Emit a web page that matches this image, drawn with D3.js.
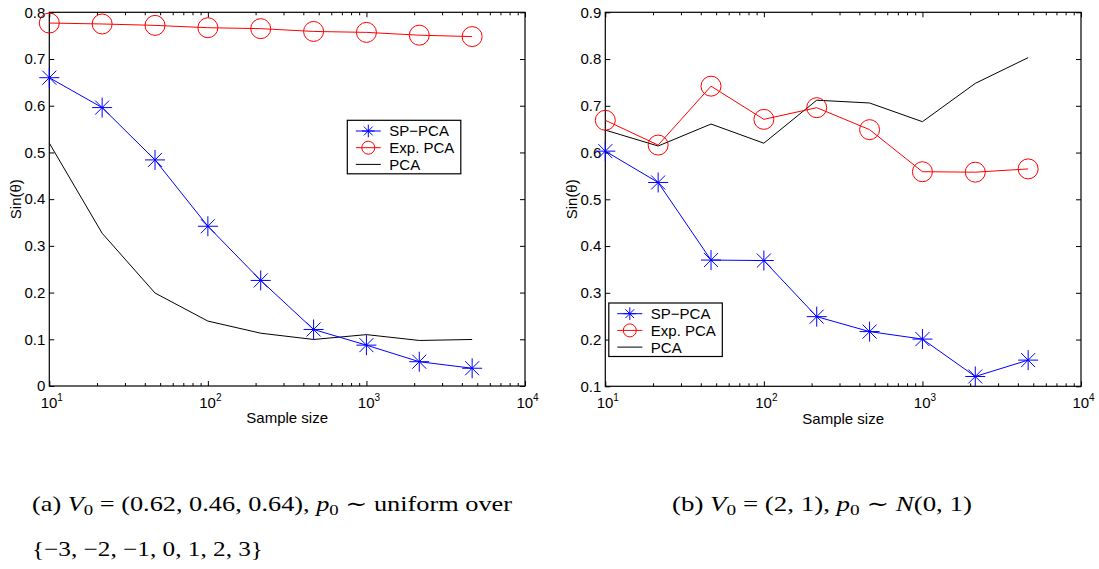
<!DOCTYPE html>
<html>
<head>
<meta charset="utf-8">
<script src="https://cdn.jsdelivr.net/npm/d3@7"></script>
<style>
  html, body { margin: 0; padding: 0; background: #fff; }
  svg { display: block; }
  .tick text { font-family: "Liberation Sans", Arial, Helvetica, sans-serif; }
</style>
</head>
<body>
<svg id="fig" width="1099" height="569"></svg>
<script>
// Sample sizes (log-spaced) shared by both panels
const sampleSizes = [10, 21.54, 46.42, 100, 215.4, 464.2, 1000, 2154, 4642];

// Panel (a): V0 = (0.62, 0.46, 0.64), uniform p0
const spPcaA  = [0.660, 0.596, 0.484, 0.342, 0.226, 0.121, 0.0875, 0.052, 0.038];
const expPcaA = [0.777, 0.775, 0.772, 0.767, 0.765, 0.759, 0.757, 0.751, 0.748];
const pcaA    = [0.520, 0.327, 0.199, 0.139, 0.113, 0.0996, 0.110, 0.0975, 0.0996];

// Panel (b): V0 = (2, 1), Gaussian p0
const spPcaB  = [0.603, 0.536, 0.370, 0.369, 0.249, 0.217, 0.201, 0.121, 0.156];
const expPcaB = [0.669, 0.616, 0.742, 0.671, 0.696, 0.649, 0.559, 0.558, 0.565];
const pcaB    = [0.648, 0.614, 0.661, 0.620, 0.712, 0.706, 0.666, 0.748, 0.803];

// Axis ticks and labels
const xMajorTicks = [10, 100, 1000, 10000];
const xTickExponents = ["1", "2", "3", "4"];
const xMinorTicks = [20, 30, 40, 50, 60, 70, 80, 90,
                     200, 300, 400, 500, 600, 700, 800, 900,
                     2000, 3000, 4000, 5000, 6000, 7000, 8000, 9000];
const yTicksA = [0, 0.1, 0.2, 0.3, 0.4, 0.5, 0.6, 0.7, 0.8];
const yTickLabelsA = ["0", "0.1", "0.2", "0.3", "0.4", "0.5", "0.6", "0.7", "0.8"];
const yTicksB = [0.1, 0.2, 0.3, 0.4, 0.5, 0.6, 0.7, 0.8, 0.9];
const yTickLabelsB = ["0.1", "0.2", "0.3", "0.4", "0.5", "0.6", "0.7", "0.8", "0.9"];

const seriesNames = ["SP\u2212PCA", "Exp. PCA", "PCA"];
const xLabel = "Sample size";
const yLabel = "Sin(\u03b8)";

const svg = d3.select("#fig");
const SANS = '"Liberation Sans", Arial, Helvetica, sans-serif';
const SERIF = '"Liberation Serif", "DejaVu Serif", serif';
const FS = "15px";

// Asterisk marker: a plus with shorter diagonals
function starPath(h) {
  const d = h * 0.7;
  return `M${-h},0H${h}M0,${-h}V${h}M${-d},${-d}L${d},${d}M${-d},${d}L${d},${-d}`;
}

function drawPanel(opt) {
  const { left, top, width, height, yDomain, yTicks, yTickLabels, sp, exp, pca, legend } = opt;
  const g = svg.append("g").attr("transform", `translate(${left},${top})`);

  const x = d3.scaleLog().domain([10, 10000]).range([0, width]);
  const y = d3.scaleLinear().domain(yDomain).range([height, 0]);

  // bottom axis: major + minor ticks pointing inward
  const bottom = g.append("g").attr("transform", `translate(0,${height})`)
    .call(d3.axisBottom(x).tickValues(xMajorTicks).tickSizeInner(-5).tickSizeOuter(0)
      .tickFormat(() => ""));
  bottom.selectAll(".tick text").remove();
  g.append("g").attr("transform", `translate(0,${height})`)
    .call(d3.axisBottom(x).tickValues(xMinorTicks).tickSizeInner(-3).tickSizeOuter(0).tickFormat(() => ""));
  g.append("g")
    .call(d3.axisTop(x).tickValues(xMajorTicks).tickSizeInner(-5).tickSizeOuter(0).tickFormat(() => ""));
  g.append("g")
    .call(d3.axisTop(x).tickValues(xMinorTicks).tickSizeInner(-3).tickSizeOuter(0).tickFormat(() => ""));

  // x tick labels as 10 with superscript exponents
  bottom.selectAll(".tick").each(function(d, i) {
    const t = d3.select(this).append("text")
      .attr("fill", "#000").attr("x", 2).attr("y", 21.5)
      .attr("text-anchor", "middle")
      .style("font-size", FS).style("font-family", SANS);
    t.append("tspan").text("10");
    t.append("tspan").attr("dy", -6.5).style("font-size", "10px").text(xTickExponents[i]);
  });

  // y axes
  g.append("g")
    .call(d3.axisLeft(y).tickValues(yTicks).tickSizeInner(-5).tickSizeOuter(0).tickPadding(4)
      .tickFormat((d, i) => yTickLabels[i]))
    .selectAll(".tick text").style("font-size", FS).style("font-family", SANS).attr("fill", "#000");
  g.append("g").attr("transform", `translate(${width},0)`)
    .call(d3.axisRight(y).tickValues(yTicks).tickSizeInner(-5).tickSizeOuter(0).tickFormat(() => ""));

  g.selectAll(".domain").remove();
  g.selectAll(".tick line").attr("stroke", "#000").attr("stroke-width", 1);

  // frame
  g.append("rect").attr("x", 0).attr("y", 0).attr("width", width).attr("height", height)
    .attr("fill", "none").attr("stroke", "#000").attr("stroke-width", 1.2);

  // axis titles
  g.append("text").attr("x", width / 2).attr("y", height + 37.5)
    .attr("text-anchor", "middle").style("font-family", SANS).style("font-size", FS)
    .text(xLabel);
  g.append("text")
    .attr("transform", `translate(-34,${height / 2}) rotate(-90)`)
    .attr("text-anchor", "middle").attr("dy", "0.35em")
    .style("font-family", SANS).style("font-size", FS)
    .text(yLabel);

  const line = d3.line().x(d => x(d[0])).y(d => y(d[1]));
  const zip = vals => sampleSizes.map((s, i) => [s, vals[i]]);

  // PCA (plain line)
  g.append("path").datum(zip(pca)).attr("d", line)
    .attr("fill", "none").attr("stroke", "#000").attr("stroke-width", 1);

  // Exp. PCA (circles)
  g.append("path").datum(zip(exp)).attr("d", line)
    .attr("fill", "none").attr("stroke", "#ff0000").attr("stroke-width", 1);
  g.selectAll(".circ").data(zip(exp)).join("circle").attr("class", "circ")
    .attr("cx", d => x(d[0])).attr("cy", d => y(d[1])).attr("r", 10)
    .attr("fill", "none").attr("stroke", "#ff0000").attr("stroke-width", 1);

  // SP-PCA (asterisks)
  g.append("path").datum(zip(sp)).attr("d", line)
    .attr("fill", "none").attr("stroke", "#0000ff").attr("stroke-width", 1);
  g.selectAll(".star").data(zip(sp)).join("path").attr("class", "star")
    .attr("transform", d => `translate(${x(d[0])},${y(d[1])})`)
    .attr("d", starPath(10))
    .attr("fill", "none").attr("stroke", "#0000ff").attr("stroke-width", 1);

  // legend
  const lg = g.append("g").attr("transform", `translate(${legend.x},${legend.y})`);
  lg.append("rect").attr("width", 113.5).attr("height", 53.5)
    .attr("fill", "#fff").attr("stroke", "#000").attr("stroke-width", 1.2);
  const rows = [
    { name: seriesNames[0], color: "#0000ff", marker: "star" },
    { name: seriesNames[1], color: "#ff0000", marker: "circle" },
    { name: seriesNames[2], color: "#000", marker: null }
  ];
  rows.forEach((r, i) => {
    const cy = 10.7 + i * 16.7;
    lg.append("line").attr("x1", 8.5).attr("x2", 33.5).attr("y1", cy).attr("y2", cy)
      .attr("stroke", r.color).attr("stroke-width", 1);
    if (r.marker === "star") {
      lg.append("path").attr("transform", `translate(21,${cy})`).attr("d", starPath(6.3))
        .attr("fill", "none").attr("stroke", r.color).attr("stroke-width", 1);
    } else if (r.marker === "circle") {
      lg.append("circle").attr("cx", 21).attr("cy", cy).attr("r", 6.5)
        .attr("fill", "none").attr("stroke", r.color).attr("stroke-width", 1);
    }
    lg.append("text").attr("x", 42).attr("y", cy).attr("dy", "0.36em")
      .style("font-family", SANS).style("font-size", FS).text(r.name);
  });
}

drawPanel({
  left: 49.3, top: 12.3, width: 475.7, height: 373.7,
  yDomain: [0, 0.8], yTicks: yTicksA, yTickLabels: yTickLabelsA,
  sp: spPcaA, exp: expPcaA, pca: pcaA,
  legend: { x: 298, y: 108 }
});

drawPanel({
  left: 605.3, top: 12.3, width: 475.7, height: 374,
  yDomain: [0.1, 0.9], yTicks: yTicksB, yTickLabels: yTickLabelsB,
  sp: spPcaB, exp: expPcaB, pca: pcaB,
  legend: { x: 3.5, y: 290.7 }
});

// captions with simple math typesetting
function caption(xPos, yPos, len, parts) {
  const t = svg.append("text").attr("x", xPos).attr("y", yPos)
    .attr("textLength", len).attr("lengthAdjust", "spacingAndGlyphs")
    .style("font-family", SERIF).style("font-size", "21px").attr("fill", "#000");
  parts.forEach(p => {
    const s = t.append("tspan").text(p.t);
    if (p.it) s.style("font-style", "italic");
    if (p.sub) s.attr("dy", 4).style("font-size", "15px");
    if (p.back) s.attr("dy", -4);
  });
}

caption(32, 511, 480, [
  { t: "(a) " }, { t: "V", it: true }, { t: "0", sub: true },
  { t: " = (0.62, 0.46, 0.64), ", back: true }, { t: "p", it: true }, { t: "0", sub: true },
  { t: " \u223c uniform over", back: true }
]);
caption(32, 556, 231, [
  { t: "{\u22123, \u22122, \u22121, 0, 1, 2, 3}" }
]);
caption(672, 511, 300, [
  { t: "(b) " }, { t: "V", it: true }, { t: "0", sub: true },
  { t: " = (2, 1), ", back: true }, { t: "p", it: true }, { t: "0", sub: true },
  { t: " \u223c ", back: true }, { t: "N", it: true }, { t: "(0, 1)" }
]);
</script>
</body>
</html>
